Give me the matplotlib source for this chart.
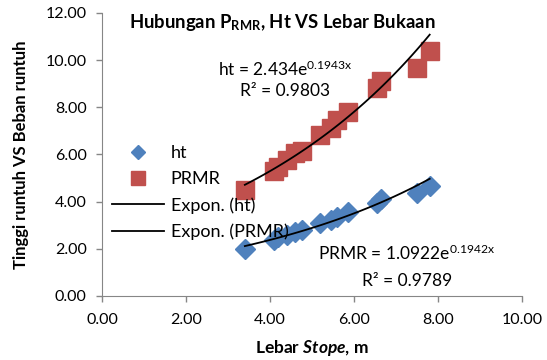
import numpy as np
import matplotlib.pyplot as plt

plt.rcParams['font.family'] = ['Lato', 'DejaVu Sans']
plt.rcParams['mathtext.fontset'] = 'custom'
plt.rcParams['mathtext.rm'] = 'Lato'
plt.rcParams['mathtext.it'] = 'Lato:italic'
plt.rcParams['mathtext.bf'] = 'Lato:bold'
plt.rcParams['mathtext.bfit'] = 'Lato:italic:bold'

# data
lebar = [3.40, 4.10, 4.20, 4.40, 4.60, 4.75, 5.20, 5.45, 5.60, 5.85, 6.55, 6.65, 7.50, 7.80]
ht = [1.98, 2.37, 2.48, 2.58, 2.70, 2.80, 3.08, 3.22, 3.36, 3.55, 3.95, 4.10, 4.35, 4.65]
prmr = [4.49, 5.30, 5.48, 5.76, 6.05, 6.15, 6.82, 7.12, 7.46, 7.81, 8.80, 9.10, 9.65, 10.40]

# trendline coefficients (as printed on the chart)
a_up, b_up = 2.434, 0.1943
a_low, b_low = 1.0922, 0.1942

xticks = [0, 2, 4, 6, 8, 10]
yticks = [0, 2, 4, 6, 8, 10, 12]

biru = '#4F81BD'
merah = '#C0504D'
abu = '#868686'

fig = plt.figure(figsize=(5.47, 3.6), dpi=100)
ax = fig.add_axes([0.1865, 0.178, 0.768, 0.786])

ax.plot(lebar, ht, 'D', color=biru, markersize=10, label='ht', zorder=3)
ax.plot(lebar, prmr, 's', color=merah, markersize=13, label='PRMR', zorder=3)

xs = np.linspace(min(lebar), max(lebar), 100)
ax.plot(xs, a_up * np.exp(b_up * xs), color='black', lw=1.3, label='Expon. (ht)', zorder=4)
ax.plot(xs, a_low * np.exp(b_low * xs), color='black', lw=1.3, label='Expon. (PRMR)', zorder=4)

ax.set_xlim(0, 10)
ax.set_ylim(0, 12)
ax.set_xticks(xticks)
ax.set_yticks(yticks)
ax.set_xticklabels(['%.2f' % v for v in xticks])
ax.set_yticklabels(['%.2f' % v for v in yticks])
ax.tick_params(labelsize=11.5, color=abu, length=4, width=1)
ax.tick_params(axis='x', pad=8)
ax.tick_params(axis='y', pad=7)
ax.spines['top'].set_visible(False)
ax.spines['right'].set_visible(False)
ax.spines['left'].set_color(abu)
ax.spines['bottom'].set_color(abu)

ax.set_xlabel('Lebar $\\mathbfit{Stope}$, m', fontsize=12.5, fontweight='bold', labelpad=8)
ax.set_ylabel('Tinggi runtuh VS Beban runtuh', fontsize=12, fontweight='bold', labelpad=12)

ax.text(0.43, 0.965, 'Hubungan P$_{\\mathbf{RMR}}$, Ht VS Lebar Bukaan', transform=ax.transAxes,
        ha='center', va='center', fontsize=13.3, fontweight='bold')

ax.text(4.36, 9.62, 'ht = 2.434e$^{\\mathrm{0.1943x}}$', ha='center', va='center', fontsize=12.5)
ax.text(4.36, 8.69, 'R² = 0.9803', ha='center', va='center', fontsize=12.5)
ax.text(7.26, 1.82, 'PRMR = 1.0922e$^{\\mathrm{0.1942x}}$', ha='center', va='center', fontsize=12.5)
ax.text(7.26, 0.64, 'R² = 0.9789', ha='center', va='center', fontsize=12.5)

ax.legend(loc='center left', bbox_to_anchor=(0.024, 0.365), frameon=False, fontsize=13,
          handlelength=2.9, handletextpad=0.35, labelspacing=0.55, borderaxespad=0,
          borderpad=0, markerscale=0.75)

fig.savefig('out.png', dpi=100)
